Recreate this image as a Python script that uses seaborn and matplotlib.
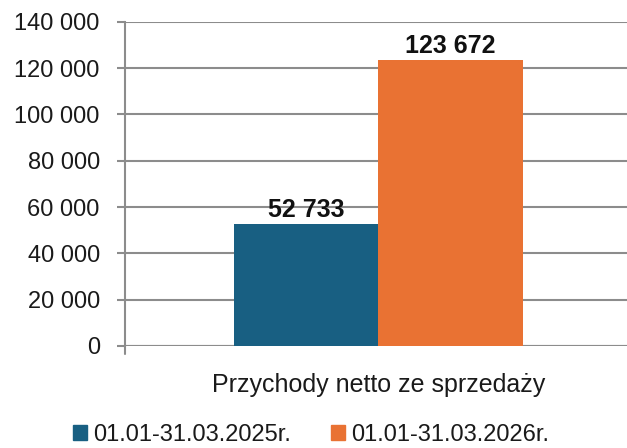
import matplotlib
matplotlib.use("Agg")
import matplotlib.pyplot as plt
import seaborn as sns
import pandas as pd
from matplotlib.ticker import FuncFormatter

# data
category = ["Przychody netto ze sprzedaży"]
periods = ["01.01-31.03.2025r.", "01.01-31.03.2026r."]
values = [52733, 123672]
colors = ["#185F82", "#E97233"]

df = pd.DataFrame({"cat": category * 2, "okres": periods, "val": values})

sns.set_style("white")
plt.rcParams["font.family"] = ["Liberation Sans", "DejaVu Sans"]
plt.rcParams["text.color"] = "#1a1a1a"

def fmt(v):
    return f"{int(v):,}".replace(",", " ")

fig = plt.figure(figsize=(6.27, 4.48), dpi=100)
ax = fig.add_axes([0.199, 0.228, 0.809, 0.723])

sns.barplot(data=df, x="cat", y="val", hue="okres", palette=colors,
            width=0.57, saturation=1, linewidth=0, ax=ax, legend=False)

ax.set_ylim(0, 140000)
ax.set_xlim(-0.5, 0.5)
ax.set_yticks(range(0, 140001, 20000))
ax.yaxis.set_major_formatter(FuncFormatter(lambda v, p: fmt(v)))
ax.grid(axis="y", color="#8c8c8c", linewidth=1.5)
ax.set_axisbelow(True)
for s in ["top", "right", "bottom"]:
    ax.spines[s].set_visible(False)
ax.spines["left"].set_color("#8c8c8c")
ax.spines["left"].set_linewidth(1.5)
ax.axhline(0, color="#8c8c8c", linewidth=1.5, zorder=0.5)
ax.tick_params(axis="y", length=6, width=1.5, color="#8c8c8c", labelcolor="#1a1a1a",
               labelsize=17, pad=12, left=True)
ax.tick_params(axis="x", bottom=False, labelsize=18, labelcolor="#1a1a1a", pad=16)
ax.set_xlabel("")
ax.set_ylabel("")
# bottom tick at the axis start
ax.plot([-0.5, -0.5], [0, -0.025], transform=ax.get_xaxis_transform(),
        color="#8c8c8c", linewidth=1.5, clip_on=False)

for cont in ax.containers:
    ax.bar_label(cont, labels=[fmt(b.get_height()) for b in cont],
                 fontsize=18, fontweight="bold", color="#111111", padding=1)

handles = [plt.Rectangle((0, 0), 1, 1, color=c) for c in colors]
fig.legend(handles, periods, loc="center", bbox_to_anchor=(0.496, 0.03),
           ncol=2, frameon=False, fontsize=17, handlelength=0.6, handleheight=0.6,
           handletextpad=0.25, columnspacing=1.7)

fig.savefig("out.png", dpi=100)
